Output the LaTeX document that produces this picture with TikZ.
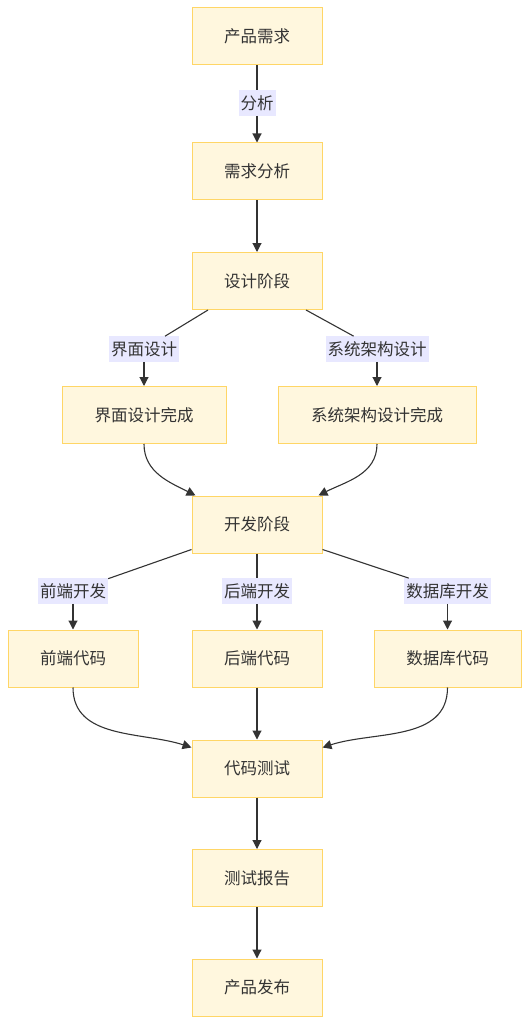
\documentclass[tikz,border=0pt]{standalone}
\usepackage{fontspec}
\setmainfont{Noto Sans CJK SC}
\usetikzlibrary{arrows.meta}
\definecolor{boxfill}{RGB}{255,247,222}
\definecolor{boxline}{RGB}{255,214,102}
\definecolor{lblfill}{RGB}{232,232,255}
\definecolor{ink}{RGB}{51,51,51}
\tikzset{
  box/.style={draw=boxline,fill=boxfill,line width=1pt,minimum width=130pt,
    minimum height=57pt,text=ink,font=\fontsize{16.5}{19}\selectfont},
  lbl/.style={fill=lblfill,inner xsep=2pt,inner ysep=5pt,text=ink,
    font=\fontsize{16.5}{19}\selectfont},
  line/.style={draw=ink,line width=1.1pt},
  arr/.style={line,-{Triangle[length=9pt,width=9pt]}}
}
\begin{document}
\begin{tikzpicture}[x=1pt,y=-1pt]
  \useasboundingbox (0,0) rectangle (530,1024);
  % requirements
  \node[box] (req) at (257,36.5) {产品需求};
  \node[box] (reqana) at (257,171.5) {需求分析};
  \node[box] (design) at (257,281) {设计阶段};
  \node[lbl] (lbana) at (257,103) {分析};
  \draw[line] (req) -- (lbana);
  \draw[arr] (lbana) -- (reqana);
  \draw[arr] (reqana) -- (design);
  % design branches
  \node[box,minimum width=164pt] (uidone) at (144,415) {界面设计完成};
  \node[box,minimum width=198pt] (archdone) at (377,415) {系统架构设计完成};
  \node[lbl] (lbui) at (144,349) {界面设计};
  \node[lbl] (lbarch) at (377,349) {系统架构设计};
  \draw[line] ([xshift=-49pt]design.south) -- (lbui);
  \draw[arr] (lbui) -- (uidone);
  \draw[line] ([xshift=49pt]design.south) -- (lbarch);
  \draw[arr] (lbarch) -- (archdone);
  % development
  \node[box] (dev) at (257,524.5) {开发阶段};
  \draw[arr] (uidone.south) to[out=-90,in=153] ([xshift=4pt]dev.north west);
  \draw[arr] (archdone.south) to[out=-90,in=27] ([xshift=-4pt]dev.north east);
  \node[box] (fecode) at (73,658.5) {前端代码};
  \node[box] (becode) at (257,658.5) {后端代码};
  \node[box,minimum width=147pt] (dbcode) at (447.5,658.5) {数据库代码};
  \node[lbl] (lbfe) at (73,591) {前端开发};
  \node[lbl] (lbbe) at (257,591) {后端开发};
  \node[lbl] (lbdb) at (447.5,591) {数据库开发};
  \draw[line] ([yshift=4pt]dev.south west) -- (lbfe);
  \draw[arr] (lbfe) -- (fecode);
  \draw[line] (dev) -- (lbbe);
  \draw[arr] (lbbe) -- (becode);
  \draw[line] ([yshift=4pt]dev.south east) -- (lbdb);
  \draw[arr] (lbdb) -- (dbcode);
  % testing and release
  \node[box] (test) at (257,768.5) {代码测试};
  \node[box] (report) at (257,878) {测试报告};
  \node[box] (release) at (257,987.5) {产品发布};
  \draw[arr] (fecode.south) to[out=-90,in=162] ([yshift=-8pt]test.north west);
  \draw[arr] (becode) -- (test);
  \draw[arr] (dbcode.south) to[out=-90,in=18] ([yshift=-8pt]test.north east);
  \draw[arr] (test) -- (report);
  \draw[arr] (report) -- (release);
\end{tikzpicture}
\end{document}
